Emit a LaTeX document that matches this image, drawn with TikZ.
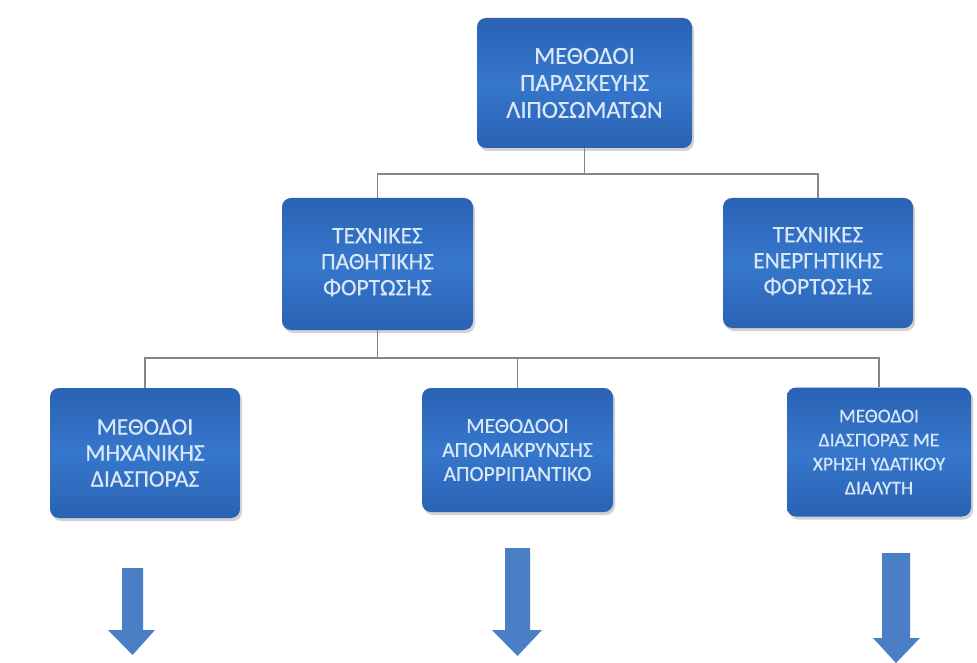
\documentclass[tikz,border=0pt]{standalone}
\usepackage{fontspec}
\setmainfont{Carlito}[FakeBold=0.5]
\usetikzlibrary{shadows}
\definecolor{boxtop}{HTML}{2A62B4}
\definecolor{boxmid}{HTML}{3677CC}
\definecolor{boxbot}{HTML}{2A62B4}
\definecolor{boxtext}{HTML}{D8E8F8}
\definecolor{linegray}{HTML}{858585}
\definecolor{arrowblue}{HTML}{4A7FC6}
\begin{document}
\begin{tikzpicture}[x=1pt,y=-1pt,
  box/.style={rounded corners=9pt, top color=boxtop, bottom color=boxbot, middle color=boxmid,
    draw=none, text=boxtext, align=center, inner sep=0pt,
    font=\fontsize{23.5}{26}\selectfont,
    drop shadow={shadow xshift=2pt, shadow yshift=-3pt, opacity=0.35}},
  link/.style={draw=linegray, line width=1.3pt},
  bigarrow/.style={fill=arrowblue, draw=none}]
\useasboundingbox (0,0) rectangle (977,663);
\fill[white] (0,0) rectangle (977,663);

\node[box, minimum width=215pt, minimum height=130pt, font=\fontsize{24.5}{27}\selectfont] (top) at (584.5,83) {ΜΕΘΟΔΟΙ\\ΠΑΡΑΣΚΕΥΗΣ\\ΛΙΠΟΣΩΜΑΤΩΝ};
\node[box, minimum width=191pt, minimum height=132pt] (b2) at (377.5,264) {\raisebox{5pt}{\begin{tabular}{@{}c@{}}ΤΕΧΝΙΚΕΣ\\ΠΑΘΗΤΙΚΗΣ\\ΦΟΡΤΩΣΗΣ\end{tabular}}};
\node[box, minimum width=190pt, minimum height=130pt] (b3) at (818,263) {\raisebox{5pt}{\begin{tabular}{@{}c@{}}ΤΕΧΝΙΚΕΣ\\ΕΝΕΡΓΗΤΙΚΗΣ\\ΦΟΡΤΩΣΗΣ\end{tabular}}};
\node[box, minimum width=190pt, minimum height=130pt] (b4) at (145,453) {ΜΕΘΟΔΟΙ\\ΜΗΧΑΝΙΚΗΣ\\ΔΙΑΣΠΟΡΑΣ};
\node[box, minimum width=191pt, minimum height=124pt, font=\fontsize{21.5}{24}\selectfont] (b5) at (517.5,450) {ΜΕΘΟΔΟΟΙ\\ΑΠΟΜΑΚΡΥΝΣΗΣ\\ΑΠΟΡΡΙΠΑΝΤΙΚΟ};
\node[box, minimum width=184pt, minimum height=129pt, font=\fontsize{19.5}{24}\selectfont] (b6) at (879,452) {ΜΕΘΟΔΟΙ\\ΔΙΑΣΠΟΡΑΣ ΜΕ\\ΧΡΗΣΗ ΥΔΑΤΙΚΟΥ\\ΔΙΑΛΥΤΗ};

\coordinate (j1) at (584.5,174);
\coordinate (j2) at (377.5,358);

\draw[link] (top.south) -- (j1);
\draw[link] (b2.north) |- (b3.north |- j1) -- (b3.north);
\draw[link] (b2.south) -- (j2);
\draw[link] (b4.north) |- (b6.north |- j2) -- (b6.north);
\draw[link] (b5.north) -- (b5.north |- j2);

% big block arrows
\fill[bigarrow] (122,568) -- (143,568) -- (143,630) -- (155,630) -- (132.5,655) -- (108,630) -- (122,630) -- cycle;
\fill[bigarrow] (505,548) -- (530,548) -- (530,630) -- (542,630) -- (517.5,656) -- (492,630) -- (505,630) -- cycle;
\fill[bigarrow] (882,553) -- (910,553) -- (910,638) -- (920,638) -- (896,663) -- (873,638) -- (882,638) -- cycle;
\end{tikzpicture}
\end{document}
